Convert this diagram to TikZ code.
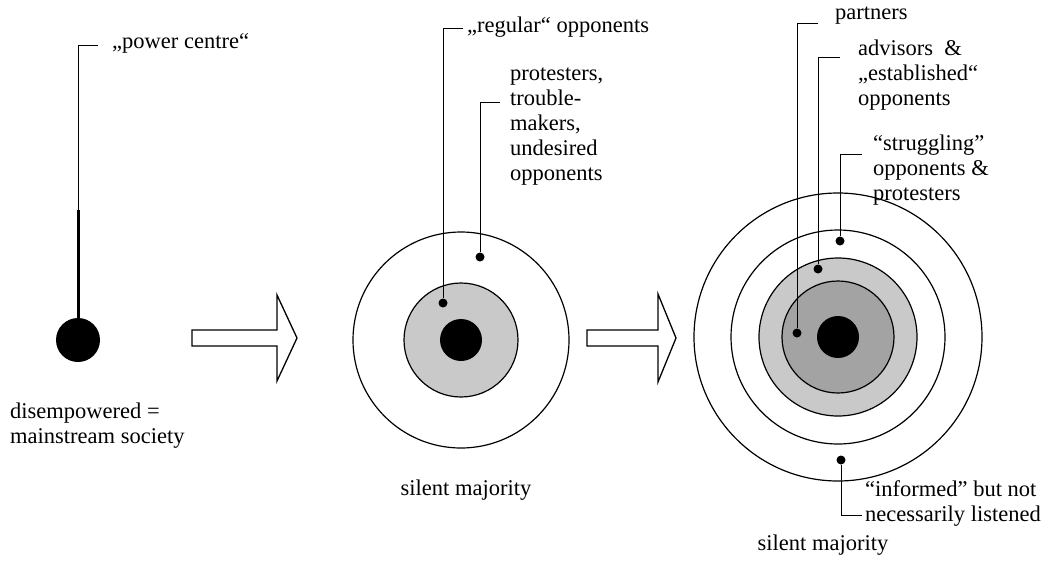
\documentclass[tikz,border=0pt]{standalone}
\usepackage{fontspec}
\setmainfont{Liberation Serif}
\usepackage{tikz}
\definecolor{ringgrey}{gray}{0.79}
\definecolor{coregrey}{gray}{0.64}

\tikzset{
  note/.style={font=\fontsize{22.5}{25}\selectfont, inner sep=0pt, align=left, anchor=north west},
  dot/.style={circle, fill=black, inner sep=0pt, minimum size=9pt},
  leader/.style={line width=0.9pt},
  ring/.style={line width=1.2pt},
  fatarrow/.style={line width=1.3pt, fill=white, line join=miter},
}

\begin{document}
\begin{tikzpicture}[x=1pt, y=-1pt]
    \useasboundingbox (0,0) rectangle (1057,568);

    % stage 1: a single power centre
    \node[circle, fill=black, inner sep=0pt, minimum size=44pt] (centre) at (78,340) {};
    \coordinate (centretick) at (98,45);
    \coordinate (centrestem) at (78,210);
    \draw[leader] (centrestem) |- (centretick);
    \draw[line width=3pt] (centrestem) -- (centre);
    \node[note] (power) at (112,33) {„power centre“};
    \node[note] (disemp) at (10,403) {disempowered =\\mainstream society};

    % block arrows between the stages
    \draw[fatarrow] (192,330) -- (277,330) -- (277,295) -- (297,338)
        -- (277,381) -- (277,346) -- (192,346) -- cycle;
    \draw[fatarrow] (587,330) -- (658,330) -- (658,294) -- (676,338)
        -- (658,382) -- (658,346) -- (587,346) -- cycle;

    % stage 2
    \coordinate (mid) at (461,340);
    \draw[ring] (mid) circle (108pt);
    \draw[ring, fill=ringgrey] (mid) circle (57pt);
    \fill (mid) circle (21pt);
    \node[dot] (regdot) at (443,303) {};
    \node[dot] (protdot) at (480,257) {};
    \coordinate (regtick) at (463,28);
    \coordinate (prottick) at (500,102);
    \draw[leader] (regdot) |- (regtick);
    \draw[leader] (protdot) |- (prottick);
    \node[note] (regular) at (467,17) {„regular“ opponents};
    \node[note] (protest) at (510,68) {protesters,\\trouble-\\makers,\\undesired\\opponents};
    \node[note, anchor=north] (midmaj) at (466,480) {silent majority};

    % stage 3
    \coordinate (right) at (838,337);
    \draw[ring] (right) circle (144pt);
    \draw[ring] (right) circle (107pt);
    \draw[ring, fill=ringgrey] (right) circle (79pt);
    \draw[ring, fill=coregrey] (right) circle (56pt);
    \fill (right) circle (21pt);
    \node[dot] (partdot) at (797,333) {};
    \node[dot] (advdot) at (818,269) {};
    \node[dot] (strugdot) at (840,241) {};
    \node[dot] (infdot) at (841,460) {};
    \coordinate (parttick) at (818,23);
    \coordinate (advtick) at (840,57);
    \coordinate (strugtick) at (862,154);
    \coordinate (inftick) at (862,515);
    \draw[leader] (partdot) |- (parttick);
    \draw[leader] (advdot) |- (advtick);
    \draw[leader] (strugdot) |- (strugtick);
    \draw[leader] (infdot) |- (inftick);
    \node[note] (partners) at (835,7) {partners};
    \node[note] (advisors) at (858,40) {advisors\ \ \&\\„established“\\opponents};
    \node[note] (struggle) at (873,135) {“struggling”\\opponents \&\\protesters};
    \node[note] (informed) at (865,480) {“informed” but not\\necessarily listened};
    \node[note, anchor=north] (rightmaj) at (823,535) {silent majority};
\end{tikzpicture}
\end{document}
